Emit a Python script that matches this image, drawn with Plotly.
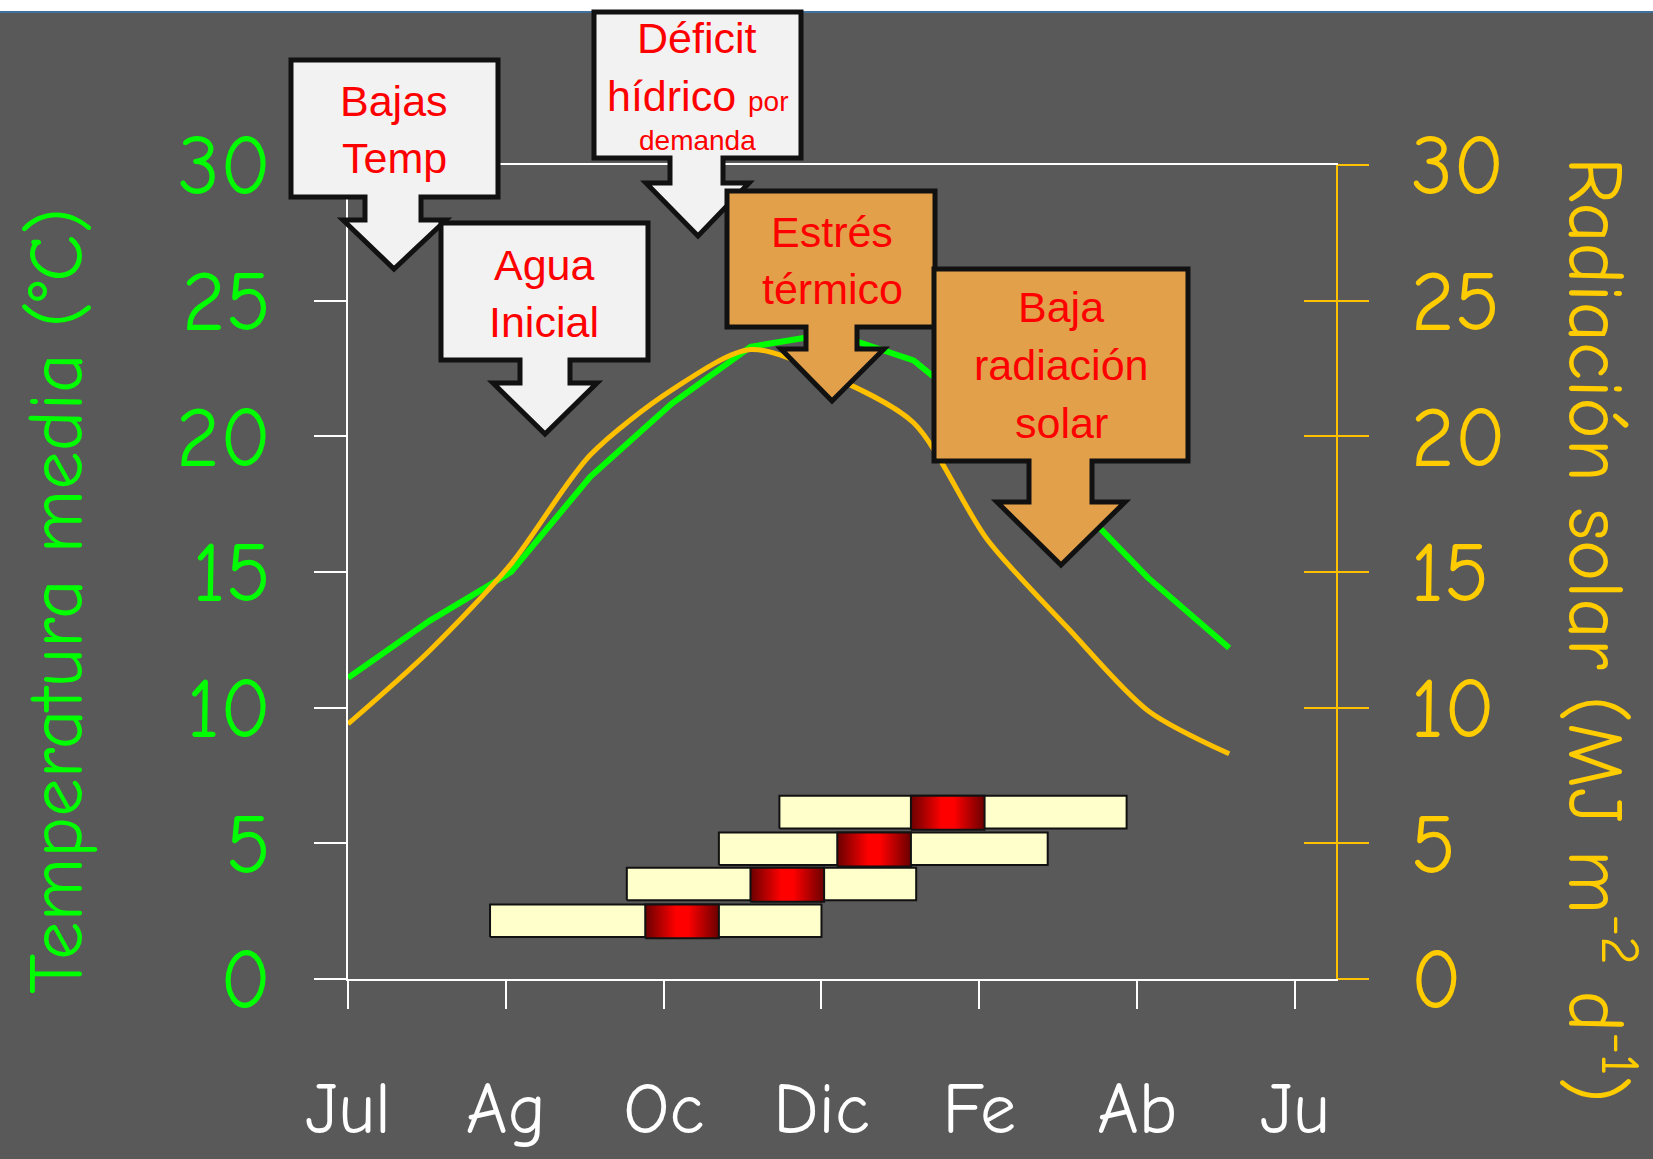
import plotly.graph_objects as go

# ---------------- data ----------------
months = ["Jul", "Ag", "Oc", "Dic", "Fe", "Ab", "Ju"]
month_ticks = [0, 60, 120, 180, 240, 300, 360]
days = [0, 31, 62, 92, 123, 153, 184, 215, 243, 274, 304, 335]
temp = [11.1, 13.2, 15.0, 18.5, 21.2, 23.3, 23.8, 22.8, 20.6, 17.8, 14.8, 12.2]
rad = [9.4, 12.1, 15.3, 19.3, 21.7, 23.2, 22.2, 20.5, 16.2, 12.9, 9.9, 8.3]
y_ticks = [0, 5, 10, 15, 20, 25, 30]

cycle_start = [54, 106, 141, 164]
cycle_end = [180, 216, 266, 296]
crit_start = [113, 153, 186, 214]
crit_end = [141, 181, 214, 242]
cycle_row = [2.15, 3.5, 4.8, 6.15]

# ---------------- geometry / style ----------------
W, H = 1653, 1159
L, R, T, B = 348, 1336, 165, 979
PW, PH = R - L, B - T
BAR_HALF = 0.6

AX_FONT = "Comic Sans MS, Comic Neue, DejaVu Sans, sans-serif"
BOX_FONT = "Liberation Sans Narrow, Arial Narrow, Liberation Sans, Arial, sans-serif"
GREEN = "#00FF00"
YELLOW = "#FFC000"
YELLOW_TXT = "#FFCC00"
BG = "#595959"


def px(x):
    return (x - L) / PW


def py(y):
    return (B - y) / PH


fig = go.Figure()

# lines
fig.add_trace(go.Scatter(x=days, y=temp, mode="lines", yaxis="y",
                         line=dict(color=GREEN, width=6), hoverinfo="skip"))
fig.add_trace(go.Scatter(x=days, y=rad, mode="lines", yaxis="y2",
                         line=dict(color=YELLOW, width=5, shape="spline", smoothing=0.8),
                         hoverinfo="skip"))

# crop cycle bars
for s, e, cs, ce, r in zip(cycle_start, cycle_end, crit_start, crit_end, cycle_row):
    lo, hi = r - BAR_HALF, r + BAR_HALF
    fig.add_trace(go.Scatter(x=[s, e, e, s, s], y=[lo, lo, hi, hi, lo], yaxis="y3",
                             mode="lines", fill="toself", fillcolor="#FFFFCC",
                             line=dict(color="#111111", width=2), hoverinfo="skip"))
    fig.add_trace(go.Scatter(x=[cs, ce, ce, cs, cs], y=[lo - 0.05, lo - 0.05, hi, hi, lo - 0.05],
                             yaxis="y3", mode="lines", fill="toself",
                             fillgradient=dict(type="horizontal",
                                               colorscale=[[0, "#6a0000"], [0.42, "#ff0000"],
                                                           [0.58, "#ff0000"], [1, "#6a0000"]]),
                             line=dict(color="#111111", width=2), hoverinfo="skip"))

# ---------------- callout boxes ----------------
callouts = [
    # L, R, T, B, shaft_l, shaft_r, shoulder_y, head_l, head_r, tip_x, tip_y, fill
    (291, 498, 60, 197, 365, 421, 220, 343, 446, 394, 269, "#F2F2F2"),
    (594, 801, 12, 158, 670, 723, 183, 646, 749, 698, 236, "#F2F2F2"),
    (441, 648, 223, 360, 520, 570, 383, 493, 597, 545, 434, "#F2F2F2"),
    (727, 935, 191, 327, 806, 857, 349, 781, 884, 832, 401, "#E2A04A"),
    (934, 1188, 269, 461, 1029, 1092, 502, 997, 1125, 1061, 565, "#E2A04A"),
]
shapes = [
    dict(type="rect", xref="paper", yref="paper", x0=px(0), x1=px(W), y0=py(0), y1=py(11),
         fillcolor="white", line=dict(width=0), layer="below"),
    dict(type="line", xref="paper", yref="paper", x0=px(0), x1=px(W), y0=py(12), y1=py(12),
         line=dict(color="#41719C", width=2), layer="below"),
]
for (bl, br, bt, bb, sl, sr, sb, hl, hr, tx, ty, fc) in callouts:
    pts = [(bl, bt), (br, bt), (br, bb), (sr, bb), (sr, sb), (hr, sb), (tx, ty),
           (hl, sb), (sl, sb), (sl, bb), (bl, bb)]
    path = "M " + " L ".join(f"{px(a):.5f},{py(b):.5f}" for a, b in pts) + " Z"
    shapes.append(dict(type="path", xref="paper", yref="paper", path=path,
                       fillcolor=fc, line=dict(color="#111111", width=5), layer="above"))

# ---------------- texts ----------------
annotations = []
BS = 43
box_lines = [
    ("Bajas", 394, 101, BS), ("Temp", 394, 158, BS),
    ("Déficit", 697, 38, BS),
    ("hídrico <span style='font-size:28px'>por</span>", 697, 96, BS),
    ("demanda", 697, 141, 28),
    ("Agua", 544, 265, BS), ("Inicial", 544, 322, BS),
    ("Estrés", 832, 232, BS), ("térmico", 832, 289, BS),
    ("Baja", 1061, 307, BS), ("radiación", 1061, 365, BS), ("solar", 1061, 423, BS),
]
for txt, x, y, s in box_lines:
    annotations.append(dict(text=txt, xref="paper", yref="paper", x=px(x), y=py(y),
                            xanchor="center", yanchor="middle", showarrow=False,
                            font=dict(family=BOX_FONT, size=s, color="#FF0000")))

annotations.append(dict(text="Temperatura media (°C)", xref="paper", yref="paper",
                        x=px(57), y=py(601), xanchor="center", yanchor="middle",
                        textangle=-90, showarrow=False,
                        font=dict(family=AX_FONT, size=77, color=GREEN)))
annotations.append(dict(text="Radiación solar (MJ m<sup>-2</sup> d<sup>-1</sup>)",
                        xref="paper", yref="paper", x=px(1600), y=py(630),
                        xanchor="center", yanchor="middle", textangle=90, showarrow=False,
                        font=dict(family=AX_FONT, size=78, color=YELLOW_TXT)))

Y_TICK_SIZE = 84
X_TICK_SIZE = 72
fig.update_layout(
    width=W, height=H,
    margin=dict(l=L, r=W - R, t=T, b=H - B, pad=0, autoexpand=False),
    paper_bgcolor=BG, plot_bgcolor=BG, showlegend=False,
    shapes=shapes, annotations=annotations,
    xaxis=dict(range=[0, 375.6], tickvals=month_ticks, ticktext=months, automargin=False,
               showgrid=False, zeroline=False, showline=True, linecolor="white",
               linewidth=2, mirror=True, ticks="outside", ticklen=28, tickwidth=2,
               tickcolor="white", ticklabelstandoff=38,
               tickfont=dict(family=AX_FONT, size=X_TICK_SIZE, color="white")),
    yaxis=dict(range=[0, 30], tickvals=y_ticks, showgrid=False, zeroline=False, automargin=False,
               showline=True, linecolor="white", linewidth=2, ticks="outside",
               ticklen=32, tickwidth=2, tickcolor="white", ticklabelstandoff=26,
               tickfont=dict(family=AX_FONT, size=Y_TICK_SIZE, color=GREEN)),
    yaxis2=dict(range=[0, 30], tickvals=y_ticks, overlaying="y", side="right", automargin=False,
                showgrid=False, zeroline=False, showline=True, linecolor=YELLOW,
                linewidth=2, ticks="outside", ticklen=31, tickwidth=2, tickcolor=YELLOW,
                ticklabelstandoff=25,
                tickfont=dict(family=AX_FONT, size=Y_TICK_SIZE, color=YELLOW_TXT)),
    yaxis3=dict(range=[0, 30], tickvals=y_ticks, overlaying="y", side="right", automargin=False,
                showgrid=False, zeroline=False, showline=False, ticks="inside",
                ticklen=32, tickwidth=2, tickcolor=YELLOW, showticklabels=False),
)

fig.write_html("out.html", config={"displayModeBar": False},
               post_script="document.body.style.margin='0px';document.body.style.overflow='hidden';")
